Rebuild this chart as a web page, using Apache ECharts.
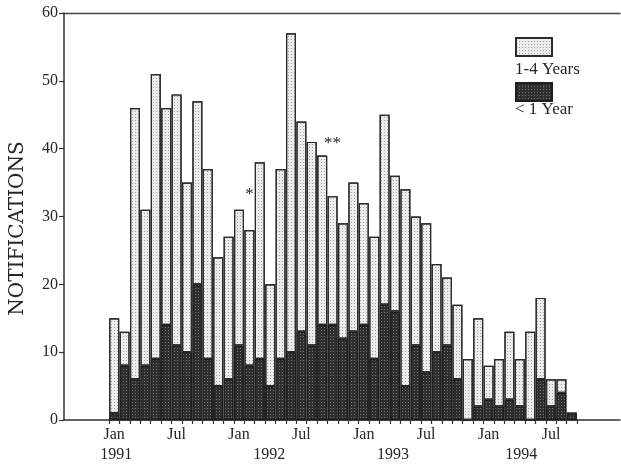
<!DOCTYPE html>
<html>
<head>
<meta charset="utf-8">
<script src="https://cdn.jsdelivr.net/npm/echarts@6/dist/echarts.min.js"></script>
<style>
  html, body { margin: 0; padding: 0; background: #ffffff; }
  #chart { width: 621px; height: 465px; }
</style>
</head>
<body>
<div id="chart"></div>
<script>
// ---- data ----
var monthNames = ['Jan','Feb','Mar','Apr','May','Jun','Jul','Aug','Sep','Oct','Nov','Dec'];
var years = [1991, 1992, 1993, 1994];
var categories = [];
for (var y = 0; y < years.length; y++) {
  for (var m = 0; m < 12; m++) {
    if (years[y] === 1994 && m > 8) break;
    categories.push(monthNames[m] + ' ' + years[y]);
  }
}
// "< 1 Year" notifications (dark, bottom of stack)
var underOne = [1, 8, 6, 8, 9, 14, 11, 10, 20, 9, 5, 6,
                11, 8, 9, 5, 9, 10, 13, 11, 14, 14, 12, 13,
                14, 9, 17, 16, 5, 11, 7, 10, 11, 6, 0, 2,
                3, 2, 3, 2, 0, 6, 2, 4, 1];
// "1-4 Years" notifications (light, top of stack)
var oneToFour = [14, 5, 40, 23, 42, 32, 37, 25, 27, 28, 19, 21,
                 20, 20, 29, 15, 28, 47, 31, 30, 25, 19, 17, 22,
                 18, 18, 28, 20, 29, 19, 22, 13, 10, 11, 9, 13,
                 5, 7, 10, 7, 13, 12, 4, 2, 0];
var yTicks = [0, 10, 20, 30, 40, 50, 60];
// year labels placed along the month axis (fractional month index)
var yearLabelAt = [0.2, 14.9, 26.8, 39.15];
// asterisk annotations
var asteriskText = ['*', '**'];
var asteriskMonth = [13, 21];
var asteriskValue = [33.3, 40.8];

var FONT = 'Liberation Serif';
var INK = '#262626';

var chart = echarts.init(document.getElementById('chart'), null, { renderer: 'canvas' });

var lightStyle = {
  color: '#ececec',
  borderColor: '#2b2b2b',
  borderWidth: 1.2,
  decal: { symbol: 'rect', symbolSize: 1, color: 'rgba(0,0,0,0.3)', dashArrayX: [1, 2], dashArrayY: [1, 2], rotation: 0 }
};
var darkStyle = {
  color: '#2f2f2f',
  borderColor: '#1e1e1e',
  borderWidth: 1.2,
  decal: { symbol: 'rect', symbolSize: 1, color: 'rgba(255,255,255,0.33)', dashArrayX: [1, 2], dashArrayY: [1, 2], rotation: 0 }
};

var option = {
  backgroundColor: '#ffffff',
  animation: false,
  textStyle: { fontFamily: FONT, color: INK },
  grid: [
    { left: 63, right: 1, top: 13, bottom: 45 },
    { left: 109, width: 468, top: 13, bottom: 45 }
  ],
  legend: [
    {
      data: ['1-4 Years'], left: 515, top: 37, padding: 0,
      itemWidth: 36, itemHeight: 18, icon: 'rect', selectedMode: false,
      formatter: function () { return ''; }
    },
    {
      data: ['< 1 Year'], left: 515, top: 82, padding: 0,
      itemWidth: 36, itemHeight: 18, icon: 'rect', selectedMode: false,
      formatter: function () { return ''; }
    }
  ],
  graphic: [
    { type: 'text', left: 515, top: 61, style: { text: '1-4 Years', font: '17px "' + FONT + '"', fill: INK } },
    { type: 'text', left: 515, top: 101, style: { text: '< 1 Year', font: '17px "' + FONT + '"', fill: INK } }
  ],
  xAxis: [
    { // frame bottom line
      gridIndex: 0, type: 'value', min: 0, max: 1, position: 'bottom',
      axisLine: { show: true, lineStyle: { color: '#333', width: 1.5 } },
      axisTick: { show: false }, axisLabel: { show: false }, splitLine: { show: false }
    },
    { // frame top line
      gridIndex: 0, type: 'value', min: 0, max: 1, position: 'top',
      axisLine: { show: true, lineStyle: { color: '#444', width: 1.3 } },
      axisTick: { show: false }, axisLabel: { show: false }, splitLine: { show: false }
    },
    { // months
      gridIndex: 1, type: 'category', data: categories, position: 'bottom',
      axisLine: { show: true, lineStyle: { color: '#333', width: 1.5 } },
      axisTick: { show: true, interval: 0, length: 4, lineStyle: { color: '#333', width: 1.2 } },
      axisLabel: {
        interval: function (i) { return i % 6 === 0; },
        formatter: function (v) { return v.split(' ')[0]; },
        margin: 7, fontSize: 16, fontFamily: FONT, color: INK
      },
      splitLine: { show: false }
    },
    { // years
      gridIndex: 1, type: 'value', min: -0.5, max: 44.5, position: 'bottom',
      axisLine: { show: false }, axisTick: { show: false }, splitLine: { show: false },
      axisLabel: {
        customValues: yearLabelAt,
        formatter: function (v) {
          var best = 0;
          for (var i = 0; i < yearLabelAt.length; i++) {
            if (Math.abs(yearLabelAt[i] - v) < Math.abs(yearLabelAt[best] - v)) best = i;
          }
          return String(years[best]);
        },
        margin: 27, fontSize: 16, fontFamily: FONT, color: INK
      }
    }
  ],
  yAxis: [
    {
      gridIndex: 0, type: 'value', min: 0, max: 60, interval: 10,
      name: 'NOTIFICATIONS', nameLocation: 'middle', nameRotate: 90, nameGap: 36,
      nameTextStyle: { fontSize: 20, fontFamily: 'DejaVu Serif', color: INK, padding: [0, 24, 0, 0] },
      axisLine: { show: true, lineStyle: { color: '#333', width: 1.5 } },
      axisTick: { show: true, length: 5, lineStyle: { color: '#333', width: 1.2 } },
      axisLabel: { margin: 6, fontSize: 16, fontFamily: FONT, color: INK,
        formatter: function (v) { return yTicks.indexOf(v) >= 0 ? String(v) : ''; } },
      splitLine: { show: false }
    },
    {
      gridIndex: 1, type: 'value', min: 0, max: 60, interval: 10, show: false
    }
  ],
  series: [
    {
      name: '< 1 Year', type: 'bar', stack: 'age', xAxisIndex: 2, yAxisIndex: 1,
      barWidth: 10, data: underOne, itemStyle: darkStyle
    },
    {
      name: '1-4 Years', type: 'bar', stack: 'age', xAxisIndex: 2, yAxisIndex: 1,
      barWidth: 10, data: oneToFour, itemStyle: lightStyle,
      markPoint: {
        symbol: 'circle', symbolSize: 1,
        itemStyle: { color: 'rgba(0,0,0,0)' },
        label: { show: true, position: 'inside', fontSize: 17, fontFamily: FONT, color: INK,
          formatter: function (p) { return p.name; } },
        data: asteriskText.map(function (t, i) {
          return { name: t, coord: [categories[asteriskMonth[i]], asteriskValue[i]] };
        })
      }
    }
  ]
};
chart.setOption(option);
</script>
</body>
</html>
